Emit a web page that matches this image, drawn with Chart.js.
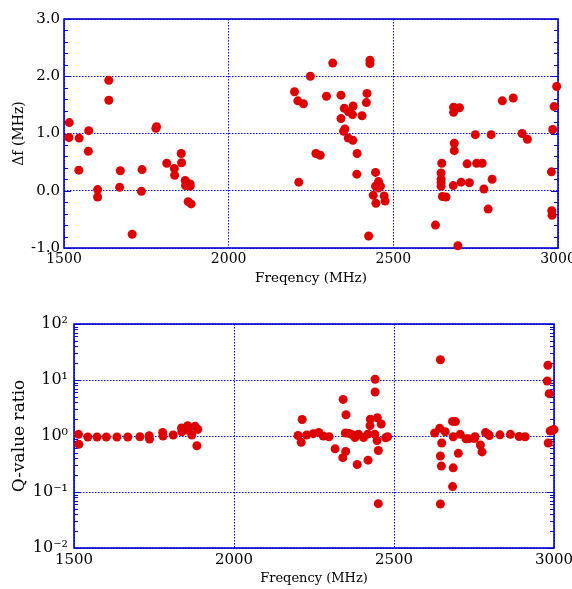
<!DOCTYPE html>
<html>
<head>
<meta charset="utf-8">
<script src="https://cdn.jsdelivr.net/npm/chart.js@4.4.0/dist/chart.umd.min.js"></script>
<style>
  body { margin: 0; background: #fff; }
  #wrap { position: relative; width: 572px; height: 589px; }
  canvas { position: absolute; left: 0; }
</style>
</head>
<body>
<div id="wrap">
  <canvas id="dfChart" width="572" height="296" style="top:0"></canvas>
  <canvas id="qChart" width="572" height="293" style="top:296px"></canvas>
</div>
<script>
// frequency tick labels shared by both panels
const freqTicks = [1500, 2000, 2500, 3000];

// top panel: frequency shift
const dfTicks = [-1, 0, 1, 2, 3];
const freqDf = [
  1516, 1515, 1546, 1545, 1575, 1574, 1602, 1602, 1636, 1636,
  1671, 1669, 1707, 1737, 1735, 1779, 1781, 1812, 1835, 1836,
  1856, 1857, 1868, 1869, 1883, 1883, 1877, 1886,
  2200, 2210, 2227, 2213, 2248, 2265, 2278, 2297, 2316, 2341,
  2351, 2341, 2364, 2378, 2376, 2349, 2353, 2363, 2377, 2390,
  2389, 2405, 2418, 2420, 2429, 2429, 2425, 2446, 2446, 2455,
  2461, 2455, 2439, 2447, 2472, 2475,
  2628, 2647, 2645, 2645, 2645, 2645, 2649, 2660, 2683, 2683,
  2701, 2685, 2685, 2682, 2696, 2706, 2724, 2731, 2749, 2753,
  2770, 2775, 2788, 2797, 2800, 2831, 2864, 2891, 2907, 2980,
  2984, 2981, 2982, 2988, 2996
];
const deltaF = [
  1.19, 0.93, 0.92, 0.36, 1.05, 0.69, 0.02, -0.11, 1.93, 1.58,
  0.35, 0.06, -0.76, 0.37, -0.01, 1.09, 1.12, 0.48, 0.39, 0.27,
  0.65, 0.49, 0.18, 0.09, 0.12, 0.08, -0.19, -0.23,
  1.73, 1.57, 1.52, 0.15, 2.00, 0.65, 0.62, 1.65, 2.23, 1.67,
  1.44, 1.26, 1.38, 1.48, 1.33, 1.04, 1.08, 0.92, 0.88, 0.65,
  0.29, 1.31, 1.54, 1.70, 2.28, 2.22, -0.79, 0.32, 0.08, 0.16,
  0.08, 0.05, -0.08, -0.22, -0.09, -0.18,
  -0.60, 0.48, 0.31, 0.20, 0.14, 0.08, -0.10, -0.11, 1.46, 1.37,
  1.45, 0.83, 0.70, 0.09, -0.96, 0.15, 0.47, 0.14, 0.98, 0.48,
  0.48, 0.03, -0.32, 0.98, 0.20, 1.57, 1.62, 1.00, 0.90, 0.33,
  1.07, -0.35, -0.43, 1.47, 1.82
];

// bottom panel: Q-value ratio (log axis)
const qTicks = [0.01, 0.1, 1, 10, 100];
const qTickLabels = ['10\u207B\u00B2', '10\u207B\u00B9', '10\u2070', '10\u00B9', '10\u00B2'];
const freqQ = [
  1514, 1515, 1543, 1572, 1601, 1634, 1668, 1706, 1735, 1736,
  1777, 1778, 1810, 1836, 1837, 1855, 1857, 1868, 1878, 1887, 1884,
  2200, 2213, 2210, 2227, 2248, 2265, 2279, 2297, 2316, 2341,
  2350, 2348, 2349, 2340, 2360, 2370, 2378, 2389, 2385, 2405,
  2418, 2419, 2425, 2426, 2440, 2441, 2441, 2447, 2448, 2460,
  2451, 2451, 2474, 2480,
  2627, 2645, 2643, 2649, 2645, 2648, 2645, 2660, 2683, 2692,
  2685, 2685, 2683, 2701, 2707, 2725, 2733, 2751, 2753, 2770,
  2775, 2786, 2794, 2798, 2831, 2864, 2891, 2910, 2981, 2979,
  2985, 2982, 2988, 2995, 3000
];
const qRatio = [
  1.07, 0.71, 0.96, 0.96, 0.96, 0.96, 0.96, 0.97, 1.01, 0.88,
  1.16, 1.00, 1.04, 1.39, 1.19, 1.53, 1.26, 1.04, 1.49, 1.31, 0.67,
  1.02, 1.97, 0.77, 1.04, 1.10, 1.16, 1.00, 0.97, 0.59, 4.5,
  2.4, 1.13, 0.53, 0.41, 1.11, 1.05, 0.94, 1.08, 0.31, 0.94,
  1.08, 0.37, 1.53, 2.0, 1.08, 10.3, 6.1, 0.83, 2.12, 1.64,
  0.55, 0.062, 0.93, 0.97,
  1.13, 23, 1.37, 0.75, 0.44, 0.29, 0.061, 1.19, 1.82, 1.81,
  0.97, 0.27, 0.125, 0.49, 1.07, 0.89, 0.89, 0.90, 0.97, 0.69,
  0.52, 1.15, 1.08, 1.02, 1.05, 1.07, 0.98, 0.97, 18.3, 9.6,
  5.7, 0.75, 1.23, 1.28, 1.30
];

const red = '#dd0000';
const axisBlue = '#0000cc';
const gridBlue = '#0000ff';

Chart.defaults.font.family = "'DejaVu Serif', serif";
Chart.defaults.color = '#000';

// box around the plot area plus inward minor ticks on left and right
const frame = {
  id: 'frame',
  beforeDatasetsDraw(chart, args, opts) {
    const { ctx, chartArea: a, scales: { y } } = chart;
    ctx.save();
    ctx.strokeStyle = axisBlue;
    ctx.lineWidth = 1;
    ctx.beginPath();
    opts.minor.forEach(v => {
      const py = Math.round(y.getPixelForValue(v)) + 0.5;
      ctx.moveTo(a.left, py); ctx.lineTo(a.left + 4, py);
      ctx.moveTo(a.right, py); ctx.lineTo(a.right - 4, py);
    });
    opts.major.forEach(v => {
      const py = Math.round(y.getPixelForValue(v)) + 0.5;
      ctx.moveTo(a.left, py); ctx.lineTo(a.left + 7, py);
      ctx.moveTo(a.right, py); ctx.lineTo(a.right - 7, py);
    });
    ctx.stroke();
    ctx.lineWidth = 1.6;
    ctx.strokeRect(a.left, a.top, a.right - a.left, a.bottom - a.top);
    ctx.restore();
  }
};

function pts(xs, ys) {
  return xs.map((x, i) => ({ x: x, y: ys[i] }));
}

// minor tick positions (axis decoration only)
const dfMinor = [];
for (let v = -1; v <= 3.001; v += 0.2) dfMinor.push(v);
const qMinor = [];
[0.01, 0.1, 1, 10].forEach(d => { for (let k = 2; k <= 9; k++) qMinor.push(d * k); });

new Chart(document.getElementById('dfChart'), {
  type: 'scatter',
  data: {
    datasets: [{
      data: pts(freqDf, deltaF),
      backgroundColor: red,
      borderWidth: 0,
      pointRadius: 4.5,
      clip: false
    }]
  },
  options: {
    responsive: false,
    animation: false,
    devicePixelRatio: 1,
    layout: { padding: { top: 19, right: 14, left: 0, bottom: 0 } },
    plugins: {
      legend: { display: false },
      tooltip: { enabled: false },
      frame: { minor: dfMinor, major: dfTicks }
    },
    scales: {
      x: {
        type: 'linear',
        min: 1500, max: 3000,
        afterBuildTicks: s => { s.ticks = freqTicks.map(v => ({ value: v })); },
        afterFit: s => { s.height = 48; s.paddingLeft = 0; s.paddingRight = 0; },
        grid: { color: gridBlue, drawTicks: false },
        border: { display: false, dash: [1.5, 1.5] },
        ticks: { padding: 3, font: { size: 14 }, maxRotation: 0, callback: v => String(v) },
        title: { display: true, text: 'Freqency (MHz)', font: { size: 13.5 }, padding: { top: 0, bottom: 9 } }
      },
      y: {
        min: -1, max: 3,
        afterBuildTicks: s => { s.ticks = dfTicks.map(v => ({ value: v })); },
        afterFit: s => { s.width = 64; s.paddingTop = 0; s.paddingBottom = 0; },
        grid: { color: gridBlue, drawTicks: false },
        border: { display: false, dash: [1.5, 1.5] },
        ticks: { padding: 4, font: { size: 15 }, callback: v => v.toFixed(1) },
        title: { display: true, text: '\u0394f (MHz)', font: { size: 14 }, padding: { top: 11, bottom: 0 } }
      }
    }
  },
  plugins: [frame]
});

new Chart(document.getElementById('qChart'), {
  type: 'scatter',
  data: {
    datasets: [{
      data: pts(freqQ, qRatio),
      backgroundColor: red,
      borderWidth: 0,
      pointRadius: 4.5,
      clip: false
    }]
  },
  options: {
    responsive: false,
    animation: false,
    devicePixelRatio: 1,
    layout: { padding: { top: 28, right: 18, left: 0, bottom: 0 } },
    plugins: {
      legend: { display: false },
      tooltip: { enabled: false },
      frame: { minor: qMinor, major: qTicks }
    },
    scales: {
      x: {
        type: 'linear',
        min: 1500, max: 3000,
        afterBuildTicks: s => { s.ticks = freqTicks.map(v => ({ value: v })); },
        afterFit: s => { s.height = 41; s.paddingLeft = 0; s.paddingRight = 0; },
        grid: { color: gridBlue, drawTicks: false },
        border: { display: false, dash: [1.5, 1.5] },
        ticks: { padding: 3, font: { size: 15 }, maxRotation: 0, callback: v => String(v) },
        title: { display: true, text: 'Freqency (MHz)', font: { size: 13 }, padding: { top: 0, bottom: 3 } }
      },
      y: {
        type: 'logarithmic',
        min: 0.01, max: 100,
        afterBuildTicks: s => { s.ticks = qTicks.map(v => ({ value: v })); },
        afterFit: s => { s.width = 74; s.paddingTop = 0; s.paddingBottom = 0; },
        grid: { color: gridBlue, drawTicks: false },
        border: { display: false, dash: [1.5, 1.5] },
        ticks: { padding: 6, font: { size: 16 }, callback: (v, i) => qTickLabels[i] },
        title: { display: true, text: 'Q-value ratio', font: { size: 17 }, padding: { top: 9, bottom: 0 } }
      }
    }
  },
  plugins: [frame]
});
</script>
</body>
</html>
